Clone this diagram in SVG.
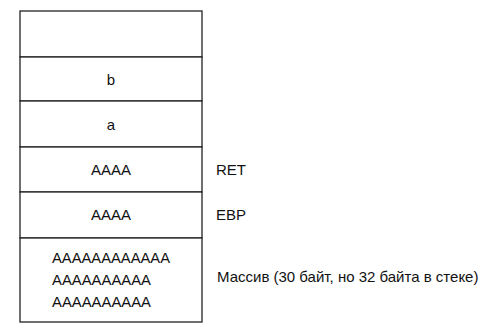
<svg xmlns="http://www.w3.org/2000/svg" width="500" height="333" viewBox="0 0 500 333">
<style>
.cell{fill:#fff;stroke:#222;stroke-width:1.3}
.t{font-family:"Liberation Sans",Arial,sans-serif;font-size:15px;fill:#111}
.c{text-anchor:middle}
</style>
<rect width="500" height="333" fill="#fff"/>
<g id="cell-top"><rect class="cell" x="20" y="11" width="182" height="46"/></g>
<g id="cell-b"><rect class="cell" x="20" y="57" width="182" height="44"/><text class="t c" x="111" y="85">b</text></g>
<g id="cell-a"><rect class="cell" x="20" y="101" width="182" height="46"/><text class="t c" x="111" y="130">a</text></g>
<g id="cell-ret"><rect class="cell" x="20" y="147" width="182" height="45"/><text class="t c" x="111" y="175">AAAA</text><text class="t" x="216" y="175">RET</text></g>
<g id="cell-ebp"><rect class="cell" x="20" y="192" width="182" height="46"/><text class="t c" x="111" y="220">AAAA</text><text class="t" x="216" y="220">EBP</text></g>
<g id="cell-array"><rect class="cell" x="20" y="238" width="182" height="84"/>
<text class="t" x="52" y="263" textLength="118" lengthAdjust="spacingAndGlyphs">AAAAAAAAAAAA</text>
<text class="t" x="52" y="285" textLength="99" lengthAdjust="spacingAndGlyphs">AAAAAAAAAA</text>
<text class="t" x="52" y="307" textLength="99" lengthAdjust="spacingAndGlyphs">AAAAAAAAAA</text>
<text class="t" x="217" y="282">Массив (30 байт, но 32 байта в стеке)</text></g>
<g id="connectors"></g>
</svg>
